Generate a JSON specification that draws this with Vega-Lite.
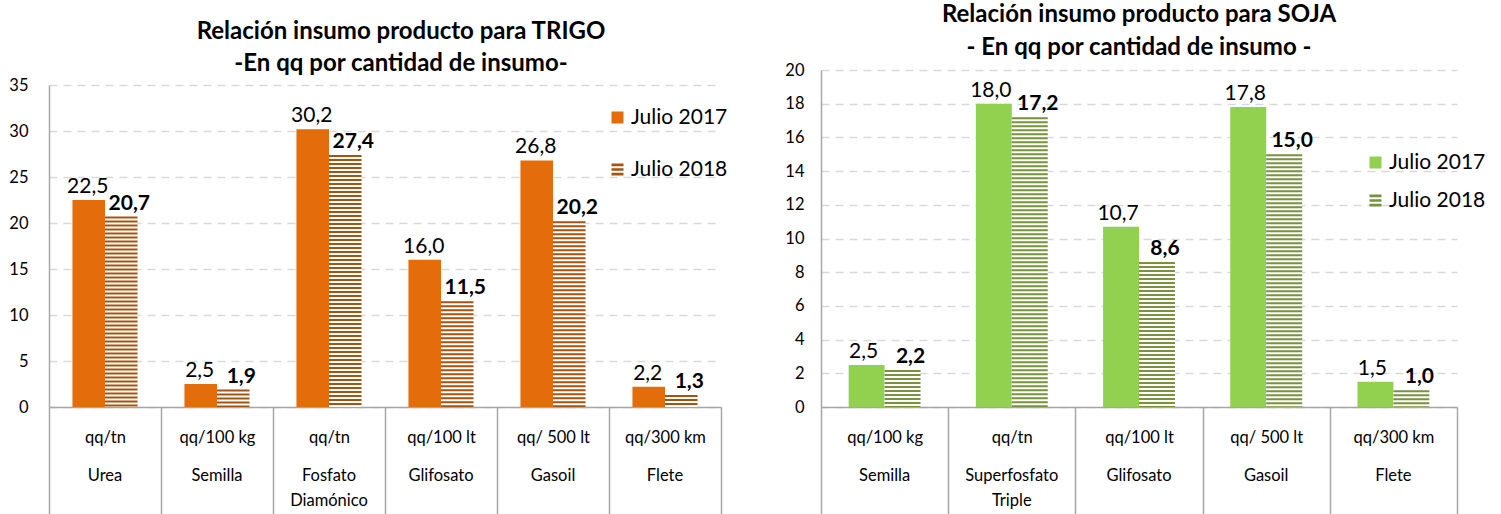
{
  "$schema": "https://vega.github.io/schema/vega-lite/v6.json",
  "padding": {"left": 8, "top": 3, "right": 0, "bottom": 0},
  "background": "white",
  "bounds": "flush",
  "spacing": 100,
  "resolve": {"scale": {"color": "independent", "shape": "independent", "xOffset": "independent", "x": "independent", "y": "independent"}, "legend": {"color": "independent", "shape": "independent"}},
  "config": {
    "font": "Lato",
    "view": {"stroke": null},
    "locale": {"number": {"decimal": ",", "thousands": ".", "grouping": [3], "currency": ["$", ""]}},
    "axis": {"domainColor": "#A6A6A6", "domainWidth": 1.5, "tickColor": "#A6A6A6", "tickWidth": 1.5, "labelColor": "#000000", "labelFont": "Lato", "gridColor": "#D9D9D9", "gridDash": [8, 6], "gridWidth": 1.5, "title": null},
    "title": {"font": "Lato", "fontSize": 24, "fontWeight": "bold", "color": "#000000", "lineHeight": 33, "anchor": "middle"}
  },
  "hconcat": [
    {
      "width": 672,
      "height": 337,
      "title": {"text": ["Relación insumo producto para TRIGO", "-En qq por cantidad de insumo-"], "offset": 2, "dy": 8, "dx": 16, "lineHeight": 32},
      "data": {"values": [
        {"cat": "qq/tn|Urea", "serie": "Julio 2017", "v": 22.5},
        {"cat": "qq/tn|Urea", "serie": "Julio 2018", "v": 20.7},
        {"cat": "qq/100 kg|Semilla", "serie": "Julio 2017", "v": 2.5},
        {"cat": "qq/100 kg|Semilla", "serie": "Julio 2018", "v": 1.9},
        {"cat": "qq/tn|Fosfato Diamónico", "serie": "Julio 2017", "v": 30.2},
        {"cat": "qq/tn|Fosfato Diamónico", "serie": "Julio 2018", "v": 27.4},
        {"cat": "qq/100 lt|Glifosato", "serie": "Julio 2017", "v": 16.0},
        {"cat": "qq/100 lt|Glifosato", "serie": "Julio 2018", "v": 11.5},
        {"cat": "qq/ 500 lt|Gasoil", "serie": "Julio 2017", "v": 26.8},
        {"cat": "qq/ 500 lt|Gasoil", "serie": "Julio 2018", "v": 20.2},
        {"cat": "qq/300 km|Flete", "serie": "Julio 2017", "v": 2.2},
        {"cat": "qq/300 km|Flete", "serie": "Julio 2018", "v": 1.3}
      ]},
      "resolve": {"axis": {"x": "independent"}},
      "encoding": {
        "xOffset": {"field": "serie", "type": "nominal", "scale": {"paddingOuter": 0.72, "paddingInner": 0}},
        "y": {"field": "v", "type": "quantitative",
          "scale": {"domain": [0, 35], "range": [337, 15], "nice": false, "zero": true},
          "axis": {"values": [0, 5, 10, 15, 20, 25, 30, 35], "ticks": false, "labelPadding": 21, "labelFontSize": 16.5, "grid": true, "domain": true}}
      },
      "layer": [
        {
          "mark": {"type": "bar", "strokeWidth": 0},
          "encoding": {
            "x": {"field": "cat", "type": "nominal", "sort": null,
              "scale": {"paddingInner": 0, "paddingOuter": 0},
              "axis": {"orient": "bottom", "labelExpr": "datum.value ? split(datum.value,'|')[0] : ''",
                "labelFontSize": 16.5, "labelPadding": -86, "labelAngle": 0, "labelBaseline": "top",
                "tickBand": "extent", "tickSize": 108, "grid": false, "labelOverlap": false, "labelBound": false, "domain": true}},
            "fill": {"condition": {"test": "datum.serie === 'Julio 2017'", "value": "#E46C0A"}, "value": "#FFFFFF"}
          }
        },
        {
          "transform": [{"filter": "datum.serie === 'Julio 2018'"}],
          "mark": {"type": "rule", "strokeWidth": 32.5, "strokeDash": [2, 2], "strokeCap": "butt", "color": "#A5530F"},
          "encoding": {
            "x": {"field": "cat", "type": "nominal", "sort": null, "axis": null},
            "y2": {"datum": 0}}
        },
        {
          "mark": {"type": "point", "filled": true, "opacity": 0},
          "encoding": {
            "x": {"field": "cat", "type": "nominal", "sort": null, "axis": null},
            "color": {"field": "serie", "type": "nominal",
              "scale": {"domain": ["Julio 2017", "Julio 2018"], "range": ["#E46C0A", "#A5530F"]},
              "legend": {"title": null, "orient": "none", "legendX": 558, "legendY": 37, "labelFontSize": 21, "labelFont": "Lato", "labelColor": "#000000",
                "symbolSize": 144, "symbolOpacity": 1, "rowPadding": 30, "labelOffset": 3, "symbolStrokeWidth": 0}},
            "shape": {"field": "serie", "type": "nominal",
              "scale": {"domain": ["Julio 2017", "Julio 2018"], "range": ["square", "M-1,-1L1,-1L1,-0.55L-1,-0.55Z M-1,-0.22L1,-0.22L1,0.22L-1,0.22Z M-1,0.55L1,0.55L1,1L-1,1Z"]},
              "legend": {"title": null, "orient": "none", "legendX": 558, "legendY": 37, "labelFontSize": 21, "labelFont": "Lato", "labelColor": "#000000",
                "symbolSize": 144, "symbolOpacity": 1, "rowPadding": 30, "labelOffset": 3, "symbolStrokeWidth": 0}}
          }
        },
        {
          "transform": [{"filter": "datum.serie === 'Julio 2017'"}],
          "mark": {"type": "text", "baseline": "bottom", "dy": -3, "dx": -1, "fontSize": 21, "color": "#000000"},
          "encoding": {
            "x": {"field": "cat", "type": "nominal", "sort": null,
              "axis": {"orient": "bottom", "labelExpr": "datum.value ? split(split(datum.value,'|')[1],' ') : ''",
                "labelFontSize": 16.5, "labelLineHeight": 25, "labelPadding": 60, "labelAngle": 0, "labelBaseline": "top",
                "ticks": false, "grid": false, "domain": false, "labelOverlap": false, "labelBound": false}},
            "text": {"field": "v", "type": "quantitative", "format": ".1f"}}
        },
        {
          "transform": [{"filter": "datum.serie === 'Julio 2018'"}],
          "mark": {"type": "text", "baseline": "bottom", "dy": -3, "dx": 8, "fontSize": 21, "fontWeight": "bold", "color": "#000000"},
          "encoding": {
            "x": {"field": "cat", "type": "nominal", "sort": null, "axis": null},
            "text": {"field": "v", "type": "quantitative", "format": ".1f"}}
        }
      ]
    },
    {
      "width": 636,
      "height": 337,
      "title": {"text": ["Relación insumo producto para SOJA", "- En qq por cantidad de insumo -"], "offset": 2},
      "data": {"values": [
        {"cat": "qq/100 kg|Semilla", "serie": "Julio 2017", "v": 2.5},
        {"cat": "qq/100 kg|Semilla", "serie": "Julio 2018", "v": 2.2},
        {"cat": "qq/tn|Superfosfato Triple", "serie": "Julio 2017", "v": 18.0},
        {"cat": "qq/tn|Superfosfato Triple", "serie": "Julio 2018", "v": 17.2},
        {"cat": "qq/100 lt|Glifosato", "serie": "Julio 2017", "v": 10.7},
        {"cat": "qq/100 lt|Glifosato", "serie": "Julio 2018", "v": 8.6},
        {"cat": "qq/ 500 lt|Gasoil", "serie": "Julio 2017", "v": 17.8},
        {"cat": "qq/ 500 lt|Gasoil", "serie": "Julio 2018", "v": 15.0},
        {"cat": "qq/300 km|Flete", "serie": "Julio 2017", "v": 1.5},
        {"cat": "qq/300 km|Flete", "serie": "Julio 2018", "v": 1.0}
      ]},
      "resolve": {"axis": {"x": "independent"}},
      "encoding": {
        "xOffset": {"field": "serie", "type": "nominal", "scale": {"paddingOuter": 0.77, "paddingInner": 0}},
        "y": {"field": "v", "type": "quantitative",
          "scale": {"domain": [0, 20], "nice": false, "zero": true},
          "axis": {"values": [0, 2, 4, 6, 8, 10, 12, 14, 16, 18, 20], "ticks": false, "labelPadding": 17, "labelFontSize": 16.5, "grid": true, "domain": true}}
      },
      "layer": [
        {
          "mark": {"type": "bar", "strokeWidth": 0},
          "encoding": {
            "x": {"field": "cat", "type": "nominal", "sort": null,
              "scale": {"paddingInner": 0, "paddingOuter": 0},
              "axis": {"orient": "bottom", "labelExpr": "datum.value ? split(datum.value,'|')[0] : ''",
                "labelFontSize": 16.5, "labelPadding": -86, "labelAngle": 0, "labelBaseline": "top",
                "tickBand": "extent", "tickSize": 108, "grid": false, "labelOverlap": false, "labelBound": false, "domain": true}},
            "fill": {"condition": {"test": "datum.serie === 'Julio 2017'", "value": "#92D050"}, "value": "#FFFFFF"}
          }
        },
        {
          "transform": [{"filter": "datum.serie === 'Julio 2018'"}],
          "mark": {"type": "rule", "strokeWidth": 36, "strokeDash": [2, 2], "strokeCap": "butt", "color": "#77933C"},
          "encoding": {
            "x": {"field": "cat", "type": "nominal", "sort": null, "axis": null},
            "y2": {"datum": 0}}
        },
        {
          "mark": {"type": "point", "filled": true, "opacity": 0},
          "encoding": {
            "x": {"field": "cat", "type": "nominal", "sort": null, "axis": null},
            "color": {"field": "serie", "type": "nominal",
              "scale": {"domain": ["Julio 2017", "Julio 2018"], "range": ["#92D050", "#77933C"]},
              "legend": {"title": null, "orient": "none", "legendX": 544, "legendY": 82, "labelFontSize": 21, "labelFont": "Lato", "labelColor": "#000000",
                "symbolSize": 144, "symbolOpacity": 1, "rowPadding": 16, "labelOffset": 3, "symbolStrokeWidth": 0}},
            "shape": {"field": "serie", "type": "nominal",
              "scale": {"domain": ["Julio 2017", "Julio 2018"], "range": ["square", "M-1,-1L1,-1L1,-0.55L-1,-0.55Z M-1,-0.22L1,-0.22L1,0.22L-1,0.22Z M-1,0.55L1,0.55L1,1L-1,1Z"]},
              "legend": {"title": null, "orient": "none", "legendX": 544, "legendY": 82, "labelFontSize": 21, "labelFont": "Lato", "labelColor": "#000000",
                "symbolSize": 144, "symbolOpacity": 1, "rowPadding": 16, "labelOffset": 3, "symbolStrokeWidth": 0}}
          }
        },
        {
          "transform": [{"filter": "datum.serie === 'Julio 2017'"}],
          "mark": {"type": "text", "baseline": "bottom", "dy": -3, "dx": -3, "fontSize": 21, "color": "#000000"},
          "encoding": {
            "x": {"field": "cat", "type": "nominal", "sort": null,
              "axis": {"orient": "bottom", "labelExpr": "datum.value ? split(split(datum.value,'|')[1],' ') : ''",
                "labelFontSize": 16.5, "labelLineHeight": 25, "labelPadding": 60, "labelAngle": 0, "labelBaseline": "top",
                "ticks": false, "grid": false, "domain": false, "labelOverlap": false, "labelBound": false}},
            "text": {"field": "v", "type": "quantitative", "format": ".1f"}}
        },
        {
          "transform": [{"filter": "datum.serie === 'Julio 2018'"}],
          "mark": {"type": "text", "baseline": "bottom", "dy": -3, "dx": 8, "fontSize": 21, "fontWeight": "bold", "color": "#000000"},
          "encoding": {
            "x": {"field": "cat", "type": "nominal", "sort": null, "axis": null},
            "text": {"field": "v", "type": "quantitative", "format": ".1f"}}
        }
      ]
    }
  ]
}
